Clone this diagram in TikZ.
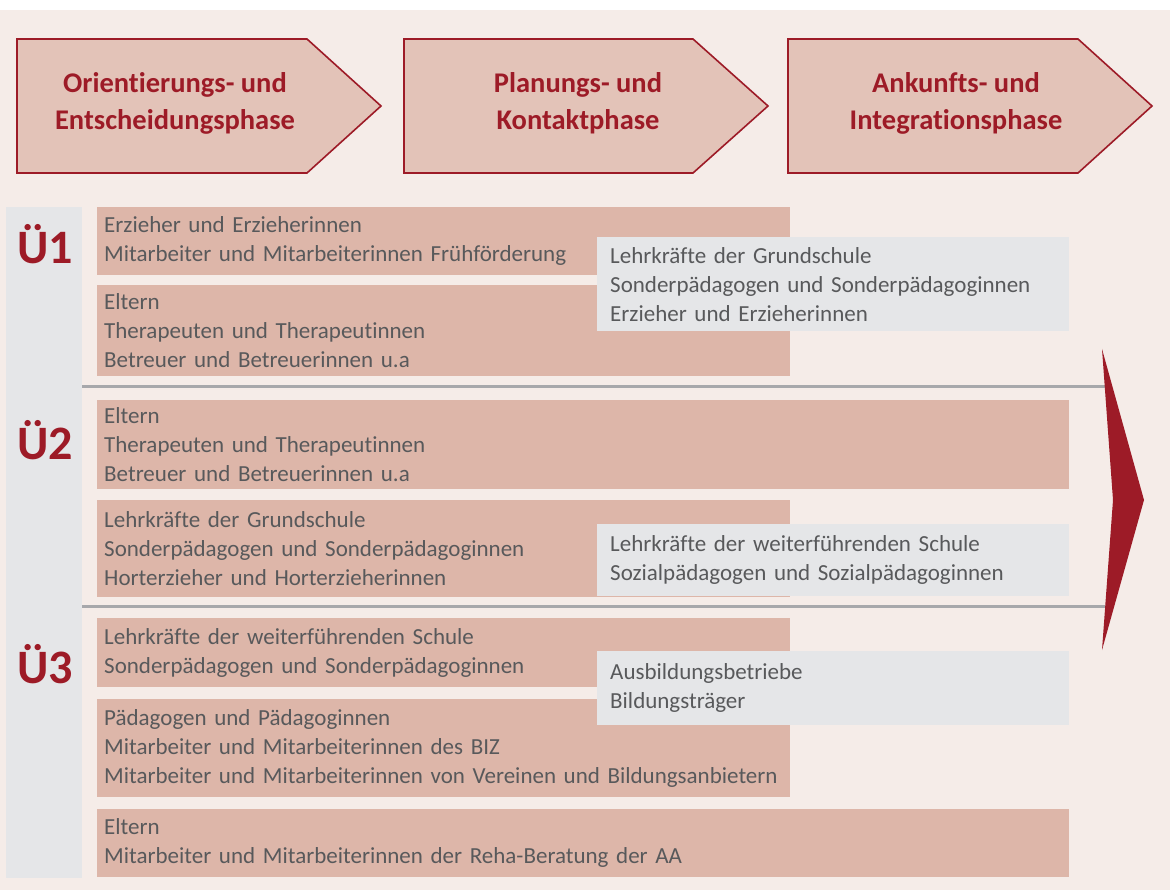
\documentclass[tikz,border=0pt]{standalone}
\usepackage{fontspec}
\setmainfont{Carlito}[Ligatures={NoCommon}]
\usetikzlibrary{positioning}

\definecolor{bgpink}{HTML}{F5ECE8}
\definecolor{headpink}{HTML}{E3C3B8}
\definecolor{darkred}{HTML}{9D1B27}
\definecolor{rowpink}{HTML}{DDB6A9}
\definecolor{infogray}{HTML}{E5E6E8}
\definecolor{sepgray}{HTML}{A7A8AB}
\definecolor{textgray}{HTML}{58595B}

\tikzset{
  phase/.style={draw=darkred, line width=1.6pt, fill=headpink, line join=miter},
  phasetext/.style={text=darkred, font=\fontsize{28.5}{37}\selectfont\bfseries, align=center},
  rowbox/.style={fill=rowpink, anchor=north west, inner xsep=7pt, inner ysep=0pt,
    align=left, text=textgray, font=\fontsize{23}{29}\selectfont},
  rowsize/.style 2 args={minimum width=#1pt, text width=#1pt-14pt, minimum height=#2pt},
  infobox/.style={rowbox, fill=infogray, inner xsep=13pt},
  infosize/.style 2 args={minimum width=#1pt, text width=#1pt-26pt, minimum height=#2pt},
  steplabel/.style={text=darkred, font=\fontsize{48}{48}\selectfont\bfseries, anchor=base},
  sepline/.style={draw=sepgray, line width=3pt}
}

\begin{document}
\begin{tikzpicture}[x=1pt, y=-1pt]
\useasboundingbox (0,0) rectangle (1170,890);
\fill[white] (0,0) rectangle (1170,890);
\fill[bgpink] (0,10) rectangle (1170,890);

% phases
\draw[phase] (17,39) -- (307,39) -- (381,106) -- (307,173) -- (17,173) -- cycle;
\draw[phase] (404,39) -- (693,39) -- (768,106) -- (693,173) -- (404,173) -- cycle;
\draw[phase] (788,39) -- (1078,39) -- (1152,106) -- (1078,173) -- (788,173) -- cycle;
\node[phasetext] (orient) at (175,103) {Orientierungs- und\\Entscheidungsphase};
\node[phasetext] (plan) at (578,103) {Planungs- und\\Kontaktphase};
\node[phasetext] (ankunft) at (956,103) {Ankunfts- und\\Integrationsphase};

% left column
\fill[infogray] (6,207) rectangle (82,878);
\node[steplabel] (ue1) at (45,264) {Ü1};
\node[steplabel] (ue2) at (45,459) {Ü2};
\node[steplabel] (ue3) at (45,683) {Ü3};

% separators
\draw[sepline] (82,387) -- (1105,387);
\draw[sepline] (82,606) -- (1105,606);

% Ü1
\node[rowbox, rowsize={693}{68}] (erz) at (97,207) {Erzieher und Erzieherinnen\\Mitarbeiter und Mitarbeiterinnen Frühförderung};
\node[rowbox, rowsize={693}{91}] (elt1) at (97,285) {Eltern\\Therapeuten und Therapeutinnen\\Betreuer und Betreuerinnen u.a};
\node[infobox, infosize={472}{94}] (grund) at (597,237) {Lehrkräfte der Grundschule\\Sonderpädagogen und Sonderpädagoginnen\\Erzieher und Erzieherinnen};

% Ü2
\node[rowbox, rowsize={972}{89}] (elt2) at (97,400) {Eltern\\Therapeuten und Therapeutinnen\\Betreuer und Betreuerinnen u.a};
\node[rowbox, rowsize={693}{97}] (lehr) at (97,500) {Lehrkräfte der Grundschule\\Sonderpädagogen und Sonderpädagoginnen\\Horterzieher und Horterzieherinnen};
\node[infobox, infosize={472}{72}] (weiter) at (597,524) {Lehrkräfte der weiterführenden Schule\\Sozialpädagogen und Sozialpädagoginnen};

% Ü3
\node[rowbox, rowsize={693}{69}] (lehr3) at (97,618) {Lehrkräfte der weiterführenden Schule\\Sonderpädagogen und Sonderpädagoginnen};
\node[rowbox, rowsize={693}{98}] (paed) at (97,699) {Pädagogen und Pädagoginnen\\Mitarbeiter und Mitarbeiterinnen des BIZ\\Mitarbeiter und Mitarbeiterinnen von Vereinen und Bildungsanbietern};
\node[rowbox, rowsize={972}{68}] (elt3) at (97,809) {Eltern\\Mitarbeiter und Mitarbeiterinnen der Reha-Beratung der AA};
\node[infobox, infosize={472}{74}] (ausb) at (597,651) {Ausbildungsbetriebe\\Bildungsträger};

% big arrow
\fill[darkred] (1102,349) -- (1144,500) -- (1102,650) -- (1113,500) -- cycle;
\end{tikzpicture}
\end{document}
